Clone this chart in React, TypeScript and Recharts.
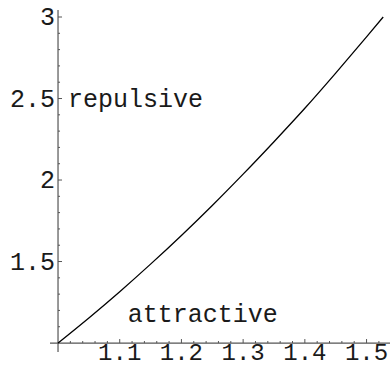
import { LineChart, Line, XAxis, YAxis, ReferenceLine, ReferenceDot } from "recharts";

// curve
const xValues = [1, 1.05, 1.1, 1.15, 1.2, 1.25, 1.3, 1.35, 1.4, 1.45, 1.5, 1.527];
const yValues = [1, 1.154, 1.315, 1.484, 1.66, 1.844, 2.036, 2.235, 2.44, 2.656, 2.878, 3.0];

const xMajorTicks = [1.1, 1.2, 1.3, 1.4, 1.5];
const xMajorLabels = ["1.1", "1.2", "1.3", "1.4", "1.5"];
const xMinorTicks = [
  1.02, 1.04, 1.06, 1.08, 1.12, 1.14, 1.16, 1.18, 1.22, 1.24, 1.26, 1.28,
  1.32, 1.34, 1.36, 1.38, 1.42, 1.44, 1.46, 1.48, 1.52,
];

const yMajorTicks = [1.5, 2, 2.5, 3];
const yMajorLabels = ["1.5", "2", "2.5", "3"];
const yMinorTicks = [
  1.1, 1.2, 1.3, 1.4, 1.6, 1.7, 1.8, 1.9, 2.1, 2.2, 2.3, 2.4, 2.6, 2.7, 2.8, 2.9,
];

const regionNames = ["repulsive", "attractive"];
const regionX = [1.016, 1.113];
const regionY = [2.5, 1.18];

const data = xValues.map((x, i) => ({ x, y: yValues[i] }));

const FONT = '"Liberation Mono", "Courier New", monospace';
const AXIS = "#555";
const INK = "#1a1a1a";

export default function App() {
  return (
    <div style={{ position: "absolute", left: 0, top: 0, background: "#fff" }}>
      <LineChart
        width={390}
        height={368}
        data={data}
        margin={{ top: 10, right: 0, bottom: 16, left: 50 }}
      >
        <XAxis type="number" dataKey="x" domain={[0.987, 1.538]} hide />
        <YAxis type="number" domain={[0.945, 3.043]} hide />

        <ReferenceLine y={1} stroke={AXIS} strokeWidth={1.2} />
        <ReferenceLine x={1} stroke={AXIS} strokeWidth={1.2} />

        {xMinorTicks.map((v) => (
          <ReferenceDot
            key={"xm" + v}
            x={v}
            y={1}
            r={0}
            shape={(p: any) => (
              <line x1={p.cx} y1={p.cy} x2={p.cx} y2={p.cy - 2} stroke={AXIS} />
            )}
          />
        ))}
        {xMajorTicks.map((v, i) => (
          <ReferenceDot
            key={"xM" + v}
            x={v}
            y={1}
            r={0}
            shape={(p: any) => (
              <g>
                <line x1={p.cx} y1={p.cy} x2={p.cx} y2={p.cy - 4} stroke={AXIS} />
                <text
                  x={p.cx}
                  y={p.cy + 17}
                  textAnchor="middle"
                  fontFamily={FONT}
                  fontSize={24}
                  fill={INK}
                >
                  {xMajorLabels[i]}
                </text>
              </g>
            )}
          />
        ))}
        {yMinorTicks.map((v) => (
          <ReferenceDot
            key={"ym" + v}
            x={1}
            y={v}
            r={0}
            shape={(p: any) => (
              <line x1={p.cx} y1={p.cy} x2={p.cx + 2} y2={p.cy} stroke={AXIS} />
            )}
          />
        ))}
        {yMajorTicks.map((v, i) => (
          <ReferenceDot
            key={"yM" + v}
            x={1}
            y={v}
            r={0}
            shape={(p: any) => (
              <g>
                <line x1={p.cx} y1={p.cy} x2={p.cx + 4} y2={p.cy} stroke={AXIS} />
                <text
                  x={p.cx - 3}
                  y={p.cy + 8}
                  textAnchor="end"
                  fontFamily={FONT}
                  fontSize={25}
                  fill={INK}
                >
                  {yMajorLabels[i]}
                </text>
              </g>
            )}
          />
        ))}

        {regionNames.map((name, i) => (
          <ReferenceDot
            key={name}
            x={regionX[i]}
            y={regionY[i]}
            r={0}
            shape={(p: any) => (
              <text
                x={p.cx}
                y={p.cy + 8}
                fontFamily={FONT}
                fontSize={25}
                fill={INK}
              >
                {name}
              </text>
            )}
          />
        ))}

        <Line
          type="monotone"
          dataKey="y"
          stroke="#000"
          strokeWidth={1.3}
          dot={false}
          isAnimationActive={false}
        />
      </LineChart>
    </div>
  );
}
